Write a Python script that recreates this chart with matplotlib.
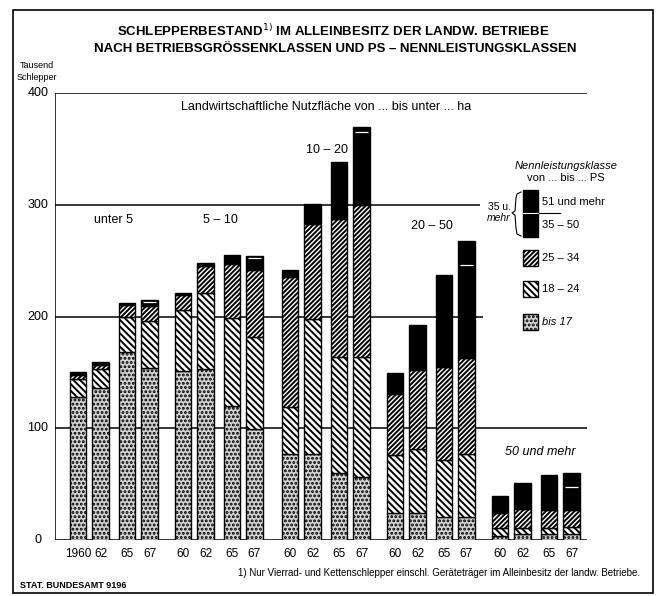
"""
Schlepperbestand im Alleinbesitz der landw. Betriebe
nach Betriebsgroessenklassen und PS-Nennleistungsklassen (gestapelte Saeulen).
"""

import matplotlib
matplotlib.use("Agg")
import matplotlib.pyplot as plt
from matplotlib.patches import Rectangle

plt.rcParams['font.family'] = ['Liberation Sans', 'DejaVu Sans']
plt.rcParams['hatch.linewidth'] = 1.4

# ---- data (Tausend Schlepper), each row: 1960, 1962, 1965, 1967 ----
groups = ["unter 5", "5 – 10", "10 – 20", "20 – 50", "50 und mehr"]
year_labels = ["60", "62", "65", "67"]
first_year_label = "1960"

bis_17 = [[128, 136, 168, 154],
          [151, 153, 120, 99],
          [77, 77, 60, 56],
          [24, 24, 21, 21],
          [4, 5, 5, 5]]
ps_18_24 = [[16, 17, 32, 42],
            [55, 68, 79, 83],
            [42, 121, 104, 108],
            [52, 57, 51, 56],
            [7, 6, 6, 7]]
ps_25_34 = [[4, 4, 10, 13],
            [13, 24, 48, 60],
            [116, 85, 123, 136],
            [55, 71, 83, 86],
            [13, 17, 16, 15]]
ps_35_50 = [[2, 2, 2, 4],
            [2, 3, 8, 10],
            [7, 18, 51, 65],
            [18, 40, 82, 83],
            [15, 23, 31, 20]]
ps_51_plus = [[0, 0, 0, 2],
              [0, 0, 0, 2],
              [0, 0, 0, 5],
              [0, 0, 0, 22],
              [0, 0, 0, 13]]

y_ticks = [0, 100, 200, 300, 400]

# ---- layout (x in pixel-like units from the left axis line) ----
group_x = [23, 128, 235, 340, 445]
year_dx = [0, 22.5, 49, 71.5]
bar_w = 16.5

layers = [
    (bis_17, dict(facecolor='#d4d4d4', hatch='....')),
    (ps_18_24, dict(facecolor='white', hatch='\\\\\\\\\\')),
    (ps_25_34, dict(facecolor='white', hatch='///////')),
    (ps_35_50, dict(facecolor='black', hatch=None)),
    (ps_51_plus, dict(facecolor='black', hatch=None)),
]

fig = plt.figure(figsize=(6.6, 5.96), dpi=100)
W, H = 660, 596
ax = fig.add_axes([55 / W, (H - 540) / H, 545 / W, 447 / H])
ax.set_xlim(0, 545)
ax.set_ylim(0, 400)
for s in ax.spines.values():
    s.set_visible(False)

# partial grid lines (legend sits in the gap on the right)
grid_end = {0: 532, 100: 532, 200: 428, 300: 425, 400: 532}
for v in y_ticks:
    ax.hlines(v, 0, grid_end[v], color='black', lw=1.1, zorder=1)
    ax.text(-17, v, str(v), ha='center', va='center', fontsize=9)
ax.vlines(0, 0, 400, color='black', lw=1.1, zorder=1)

xs, xlabels = [], []
for g in range(len(groups)):
    for j in range(len(year_labels)):
        x = group_x[g] + year_dx[j]
        xs.append(x)
        xlabels.append(first_year_label if (g == 0 and j == 0) else year_labels[j])
        bottom = 0
        for vals, style in layers:
            h = vals[g][j]
            if h > 0:
                ax.bar(x, h, bottom=bottom, width=bar_w, edgecolor='black',
                       linewidth=1.0, zorder=3, **style)
                if vals is ps_51_plus:
                    ax.hlines(bottom, x - bar_w / 2 + 1.5, x + bar_w / 2 - 1.5,
                              color='white', lw=0.9, zorder=4)
            bottom += h

ax.set_xticks(xs, xlabels)
ax.tick_params(axis='x', length=0, pad=6, labelsize=8.5)
ax.tick_params(axis='y', left=False, labelleft=False)

# overlay in pixel coordinates for all free text
ov = fig.add_axes([0, 0, 1, 1], zorder=5)
ov.set_xlim(0, W)
ov.set_ylim(H, 0)
ov.axis('off')

group_label_pos = [(114, 220), (220, 220), (327, 150), (432, 226), (540, 452)]
for name, (gx, gy) in zip(groups, group_label_pos):
    ov.text(gx, gy, name, ha='center', va='center', fontsize=9,
            style='italic' if 'mehr' in name else 'normal')

# outer frame
ov.add_patch(Rectangle((13, 10), 640, 583, fill=False, lw=1.2, ec='black'))

# titles
ov.text(333, 31, "SCHLEPPERBESTAND$^{1)}$ IM ALLEINBESITZ DER LANDW. BETRIEBE",
        ha='center', va='center', fontsize=9.5, fontweight='bold')
ov.text(335, 49, "NACH BETRIEBSGRÖSSENKLASSEN UND PS – NENNLEISTUNGSKLASSEN",
        ha='center', va='center', fontsize=9.5, fontweight='bold')
ov.text(37, 66, "Tausend", ha='center', va='center', fontsize=6.5)
ov.text(37, 77, "Schlepper", ha='center', va='center', fontsize=6.5)
ov.text(326, 107, "Landwirtschaftliche Nutzfläche von ... bis unter ... ha",
        ha='center', va='center', fontsize=9)

# legend
ov.text(566, 166, "Nennleistungsklasse", ha='center', va='center',
        fontsize=8, style='italic')
ov.text(566, 178, "von ... bis ... PS", ha='center', va='center', fontsize=8)
ov.add_patch(Rectangle((523, 190), 15, 47, fc='black', ec='black'))
ov.plot([523, 560], [213, 213], color='black', lw=0.8)
ov.plot([523, 538], [213, 213], color='white', lw=0.8)
ov.text(542, 202, "51 und mehr", ha='left', va='center', fontsize=8)
ov.text(542, 225, "35 – 50", ha='left', va='center', fontsize=8)
ov.plot([521, 517, 516, 515, 512, 515, 516, 517, 521],
        [192, 194, 198, 211, 213, 215, 228, 234, 236], color='black', lw=0.8)
ov.text(499, 207, "35 u.", ha='center', va='center', fontsize=7.5)
ov.text(499, 218, "mehr", ha='center', va='center', fontsize=7.5, style='italic')

legend_rows = [("25 – 34", 258, layers[2][1]),
               ("18 – 24", 289, layers[1][1]),
               ("bis 17", 322, layers[0][1])]
for text, cy, style in legend_rows:
    ov.add_patch(Rectangle((523, cy - 8), 15, 16, ec='black', lw=1.0, **style))
    ov.text(542, cy, text, ha='left', va='center', fontsize=8,
            style='italic' if text.startswith('bis') else 'normal')

# footnotes
ov.text(640, 573, "1) Nur Vierrad- und Kettenschlepper einschl. Geräteträger im "
        "Alleinbesitz der landw. Betriebe.", ha='right', va='center', fontsize=7)
ov.text(20, 586, "STAT. BUNDESAMT 9196", ha='left', va='center', fontsize=6.5,
        fontweight='bold')

fig.savefig("out.png", dpi=100)
